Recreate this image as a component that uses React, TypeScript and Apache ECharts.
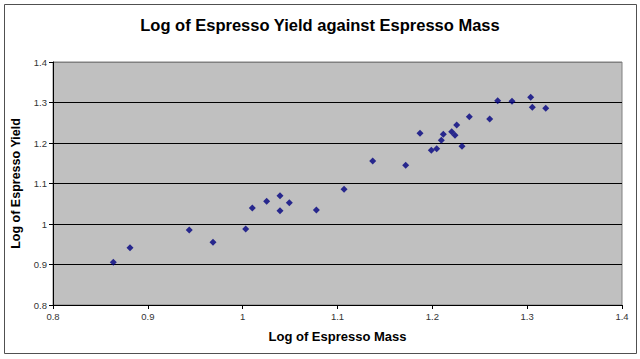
import React, { useEffect, useRef } from "react";
import * as echarts from "echarts";

const logMass: number[] = [
  0.8636, 0.8812, 0.9437, 0.9687, 1.0032, 1.0102, 1.0253, 1.0394, 1.0492, 1.0394,
  1.0777, 1.1069, 1.1371, 1.1719, 1.187, 1.1989, 1.2046, 1.2095, 1.2116, 1.2204,
  1.2239, 1.2257, 1.2313, 1.239, 1.2605, 1.2689, 1.284, 1.3037, 1.3054, 1.3196,
];
const logYield: number[] = [
  0.9054, 0.9415, 0.9852, 0.9548, 0.9877, 1.0395, 1.056, 1.0699, 1.0526, 1.0328,
  1.0346, 1.0857, 1.1556, 1.1449, 1.224, 1.182, 1.1859, 1.2067, 1.2215, 1.2279,
  1.219, 1.2444, 1.1919, 1.2649, 1.2593, 1.3044, 1.303, 1.3128, 1.2881, 1.2857,
];

const titleText = "Log of Espresso Yield against Espresso Mass";
const xTitle = "Log of Espresso Mass";
const yTitle = "Log of Espresso Yield";

export default function App() {
  const ref = useRef<HTMLDivElement>(null);
  useEffect(() => {
    if (!ref.current) return;
    const chart = echarts.init(ref.current, null, { renderer: "svg" });
    const data = logMass.map((x, i) => [x, logYield[i]]);
    const font = "'Liberation Sans', Arial, sans-serif";
    chart.setOption({
      animation: false,
      backgroundColor: "#ffffff",
      title: {
        text: titleText,
        left: "center",
        top: 11,
        textStyle: { fontFamily: font, fontSize: 16.5, fontWeight: "bold", color: "#000" },
      },
      graphic: [
        {
          type: "rect",
          shape: { x: 4.5, y: 4.5, width: 632, height: 349 },
          style: { fill: "none", stroke: "#505050", lineWidth: 1 },
          silent: true,
        },
      ],
      grid: {
        left: 53,
        right: 18,
        top: 62,
        bottom: 54,
        show: true,
        backgroundColor: "#C0C0C0",
        borderColor: "#808080",
        borderWidth: 1,
      },
      xAxis: {
        type: "value",
        min: 0.8,
        max: 1.4,
        interval: 0.1,
        name: xTitle,
        nameLocation: "middle",
        nameGap: 25,
        nameTextStyle: { fontFamily: font, fontSize: 13, fontWeight: "bold", color: "#000" },
        axisLine: { show: true, lineStyle: { color: "#000", width: 1 } },
        axisTick: { show: true, length: 4, lineStyle: { color: "#000" } },
        axisLabel: {
          fontFamily: font,
          fontSize: 9.5,
          color: "#333",
          margin: 6,
          formatter: (v: number) => String(Math.round(v * 10) / 10),
        },
        splitLine: { show: false },
      },
      yAxis: {
        type: "value",
        min: 0.8,
        max: 1.4,
        interval: 0.1,
        name: yTitle,
        nameLocation: "middle",
        nameGap: 28,
        nameRotate: 90,
        nameTextStyle: { fontFamily: font, fontSize: 12.5, fontWeight: "bold", color: "#000" },
        axisLine: { show: true, lineStyle: { color: "#000", width: 1 } },
        axisTick: { show: true, length: 4, lineStyle: { color: "#000" } },
        axisLabel: {
          fontFamily: font,
          fontSize: 9.5,
          color: "#333",
          margin: 6,
          formatter: (v: number) => String(Math.round(v * 10) / 10),
        },
        splitLine: {
          show: true,
          lineStyle: {
            color: ["#000", "#000", "#000", "#000", "#000", "#000", "#808080"],
            width: 1,
          },
        },
      },
      series: [
        {
          type: "scatter",
          data,
          symbol: "diamond",
          symbolSize: 7,
          itemStyle: { color: "#000080" },
        },
      ],
    });
    return () => chart.dispose();
  }, []);
  return (
    <div
      ref={ref}
      style={{ position: "fixed", left: 0, top: 0, width: 640, height: 359 }}
    />
  );
}
